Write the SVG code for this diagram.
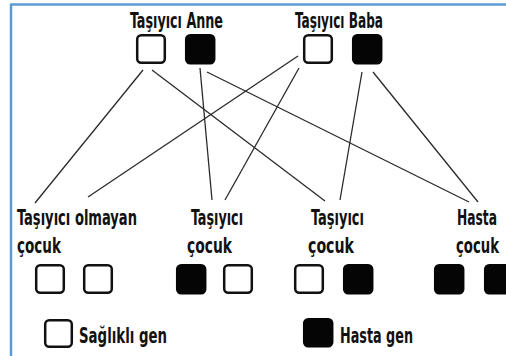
<svg xmlns="http://www.w3.org/2000/svg" width="506" height="356" viewBox="0 0 506 356">
<style>
text{font-family:"Liberation Sans Narrow","DejaVu Sans Condensed","Liberation Sans",sans-serif;font-weight:bold;font-size:20.5px;fill:#111}
.w{fill:#fff;stroke:#111;stroke-width:2.5}
.b{fill:#050505;stroke:#050505;stroke-width:2.5}
.c line{stroke:#2a2a2a;stroke-width:1.3}
</style>
<rect width="506" height="356" fill="#fff"/>
<g id="frame" stroke="#5b9bd5" stroke-width="2.5" fill="none">
<line x1="11" y1="4.5" x2="506" y2="4.5"/>
<line x1="11" y1="3.5" x2="11" y2="356"/>
</g>
<g id="anne">
<text x="130" y="28" textLength="93" lengthAdjust="spacingAndGlyphs">Taşıyıcı Anne</text>
<rect class="w" x="137.2" y="35.2" width="27.6" height="27.6" rx="4"/>
<rect class="b" x="186.2" y="35.2" width="28" height="28" rx="4"/>
</g>
<g id="baba">
<text x="295" y="28" textLength="88" lengthAdjust="spacingAndGlyphs">Taşıyıcı Baba</text>
<rect class="w" x="304.2" y="35.2" width="27.6" height="27.6" rx="4"/>
<rect class="b" x="353.2" y="35.2" width="28" height="28" rx="4"/>
</g>
<g class="c" id="connectors">
<line x1="143" y1="70" x2="35" y2="203"/>
<line x1="152" y1="70" x2="325" y2="201"/>
<line x1="200" y1="68" x2="212" y2="200"/>
<line x1="207" y1="72" x2="469" y2="202"/>
<line x1="298" y1="56" x2="88" y2="197"/>
<line x1="299" y1="68" x2="225" y2="200"/>
<line x1="362" y1="72" x2="340" y2="200"/>
<line x1="373" y1="72" x2="478" y2="202"/>
</g>
<g id="cocuk1">
<text x="17" y="224.5" textLength="120" lengthAdjust="spacingAndGlyphs">Taşıyıcı olmayan</text>
<text x="17" y="253" textLength="44" lengthAdjust="spacingAndGlyphs">çocuk</text>
<rect class="w" x="36.2" y="265.2" width="27.6" height="27.6" rx="4"/>
<rect class="w" x="84.2" y="265.2" width="27.6" height="27.6" rx="4"/>
</g>
<g id="cocuk2">
<text x="191" y="224.5" textLength="52" lengthAdjust="spacingAndGlyphs">Taşıyıcı</text>
<text x="187" y="253" textLength="45" lengthAdjust="spacingAndGlyphs">çocuk</text>
<rect class="b" x="177.2" y="265.2" width="28" height="28" rx="4"/>
<rect class="w" x="224.2" y="265.2" width="27.6" height="27.6" rx="4"/>
</g>
<g id="cocuk3">
<text x="311" y="224.5" textLength="53" lengthAdjust="spacingAndGlyphs">Taşıyıcı</text>
<text x="308" y="253" textLength="46" lengthAdjust="spacingAndGlyphs">çocuk</text>
<rect class="w" x="295.2" y="265.2" width="27.6" height="27.6" rx="4"/>
<rect class="b" x="344.2" y="265.2" width="28" height="28" rx="4"/>
</g>
<g id="cocuk4">
<text transform="translate(457 224.5) scale(0.7 1)" textLength="57.1" lengthAdjust="spacingAndGlyphs">Hasta</text>
<text transform="translate(456 253) scale(0.7 1)" textLength="61.4" lengthAdjust="spacingAndGlyphs">çocuk</text>
<rect class="b" x="435.2" y="265.2" width="28" height="28" rx="4"/>
<rect class="b" x="485.2" y="265.2" width="28" height="28" rx="4"/>
</g>
<g id="legend-saglikli">
<rect class="w" x="45.2" y="320.2" width="26.6" height="26.6" rx="4"/>
<text x="79" y="343" textLength="88" lengthAdjust="spacingAndGlyphs">Sağlıklı gen</text>
</g>
<g id="legend-hasta">
<rect class="b" x="304.2" y="319.2" width="28" height="27" rx="4"/>
<text x="340" y="343" textLength="73" lengthAdjust="spacingAndGlyphs">Hasta gen</text>
</g>
</svg>
